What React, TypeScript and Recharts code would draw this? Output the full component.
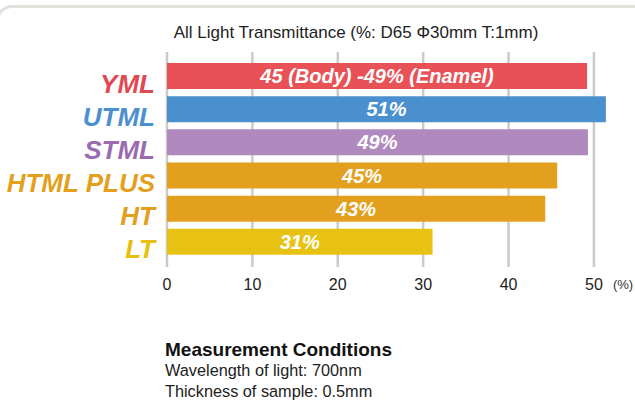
import { BarChart, Bar, XAxis, YAxis, CartesianGrid, Cell, LabelList } from "recharts";

const grades = ["YML", "UTML", "STML", "HTML PLUS", "HT", "LT"];
const transmittance = [49.2, 51.4, 49.3, 45.7, 44.3, 31.1];
const valueLabels = ["45 (Body) -49% (Enamel)", "51%", "49%", "45%", "43%", "31%"];
const xTicks = [0, 10, 20, 30, 40, 50];
const xMax = 52;

const barColors = ["#e85257", "#4a90cf", "#b089bf", "#e3a01f", "#e3a01f", "#e8c212"];
const nameColors = ["#e04951", "#4a8fd0", "#9a6bb0", "#e3a01c", "#e3a01c", "#e8be10"];

const data = grades.map((name, i) => ({ name, value: transmittance[i], label: valueLabels[i] }));

const font = "'Liberation Sans', Arial, Helvetica, sans-serif";

const GradeTick = (props: any) => {
  const { y, payload, index } = props;
  return (
    <text
      x={155}
      y={y + 16.5}
      textAnchor="end"
      fontFamily={font}
      fontSize={26}
      fontWeight="bold"
      fontStyle="italic"
      fill={nameColors[index]}
    >
      {payload.value}
    </text>
  );
};

const PercentTick = (props: any) => {
  const { x, payload } = props;
  const last = payload.value === xTicks[xTicks.length - 1];
  return (
    <g>
      <text x={x} y={290} textAnchor="middle" fontFamily={font} fontSize={16} fill="#222">
        {payload.value}
      </text>
      {last && (
        <text x={x + 19} y={289} fontFamily={font} fontSize={13} fill="#333">
          (%)
        </text>
      )}
    </g>
  );
};

const BarText = (props: any) => {
  const { x, y, width, height, value } = props;
  return (
    <text
      x={x + width / 2}
      y={y + height / 2 + 7}
      textAnchor="middle"
      fontFamily={font}
      fontSize={20}
      fontWeight="bold"
      fontStyle="italic"
      fill="#fff"
    >
      {value}
    </text>
  );
};

// grid lines only at the labelled ticks, not at the plot's right edge
const gridAtTicks = ({ offset }: any) =>
  xTicks.map((t) => offset.left + (t / xMax) * offset.width);

export default function App() {
  return (
    <div
      style={{
        position: "absolute",
        left: 0,
        top: 0,
        width: 635,
        height: 404,
        overflow: "hidden",
        background: "#fff",
        fontFamily: font,
      }}
    >
      <div
        style={{
          position: "absolute",
          left: -4,
          top: 5,
          width: 700,
          height: 600,
          border: "3px solid #e2e0db",
          borderRadius: 16,
          boxSizing: "border-box",
        }}
      />
      <div style={{ position: "absolute", left: 0, top: 0 }}>
        <BarChart
          width={635}
          height={300}
          data={data}
          layout="vertical"
          margin={{ top: 52, right: 24, bottom: 0, left: 0 }}
          barCategoryGap={3.5}
        >
          <CartesianGrid
            horizontal={false}
            stroke="#cdc9c5"
            strokeWidth={2.5}
            verticalCoordinatesGenerator={gridAtTicks}
          />
          <XAxis
            type="number"
            domain={[0, xMax]}
            ticks={xTicks}
            axisLine={false}
            tickLine={false}
            height={33}
            tick={<PercentTick />}
          />
          <YAxis
            type="category"
            dataKey="name"
            width={167}
            axisLine={false}
            tickLine={false}
            padding={{ top: 7.5, bottom: 8.5 }}
            tick={<GradeTick />}
            interval={0}
          />
          <Bar dataKey="value" isAnimationActive={false}>
            {data.map((d, i) => (
              <Cell key={d.name} fill={barColors[i]} />
            ))}
            <LabelList dataKey="label" content={<BarText />} />
          </Bar>
        </BarChart>
      </div>
      <svg
        width={635}
        height={404}
        style={{ position: "absolute", left: 0, top: 0, pointerEvents: "none" }}
      >
        <text x={356} y={38} textAnchor="middle" fontFamily={font} fontSize={17} fill="#222">
          All Light Transmittance (%: D65 Φ30mm T:1mm)
        </text>
        <text x={165} y={356} fontFamily={font} fontSize={19} fontWeight="bold" fill="#111">
          Measurement Conditions
        </text>
        <text x={165} y={376} fontFamily={font} fontSize={16.3} fill="#222">
          Wavelength of light: 700nm
        </text>
        <text x={165} y={397} fontFamily={font} fontSize={16.3} fill="#222">
          Thickness of sample: 0.5mm
        </text>
      </svg>
    </div>
  );
}
